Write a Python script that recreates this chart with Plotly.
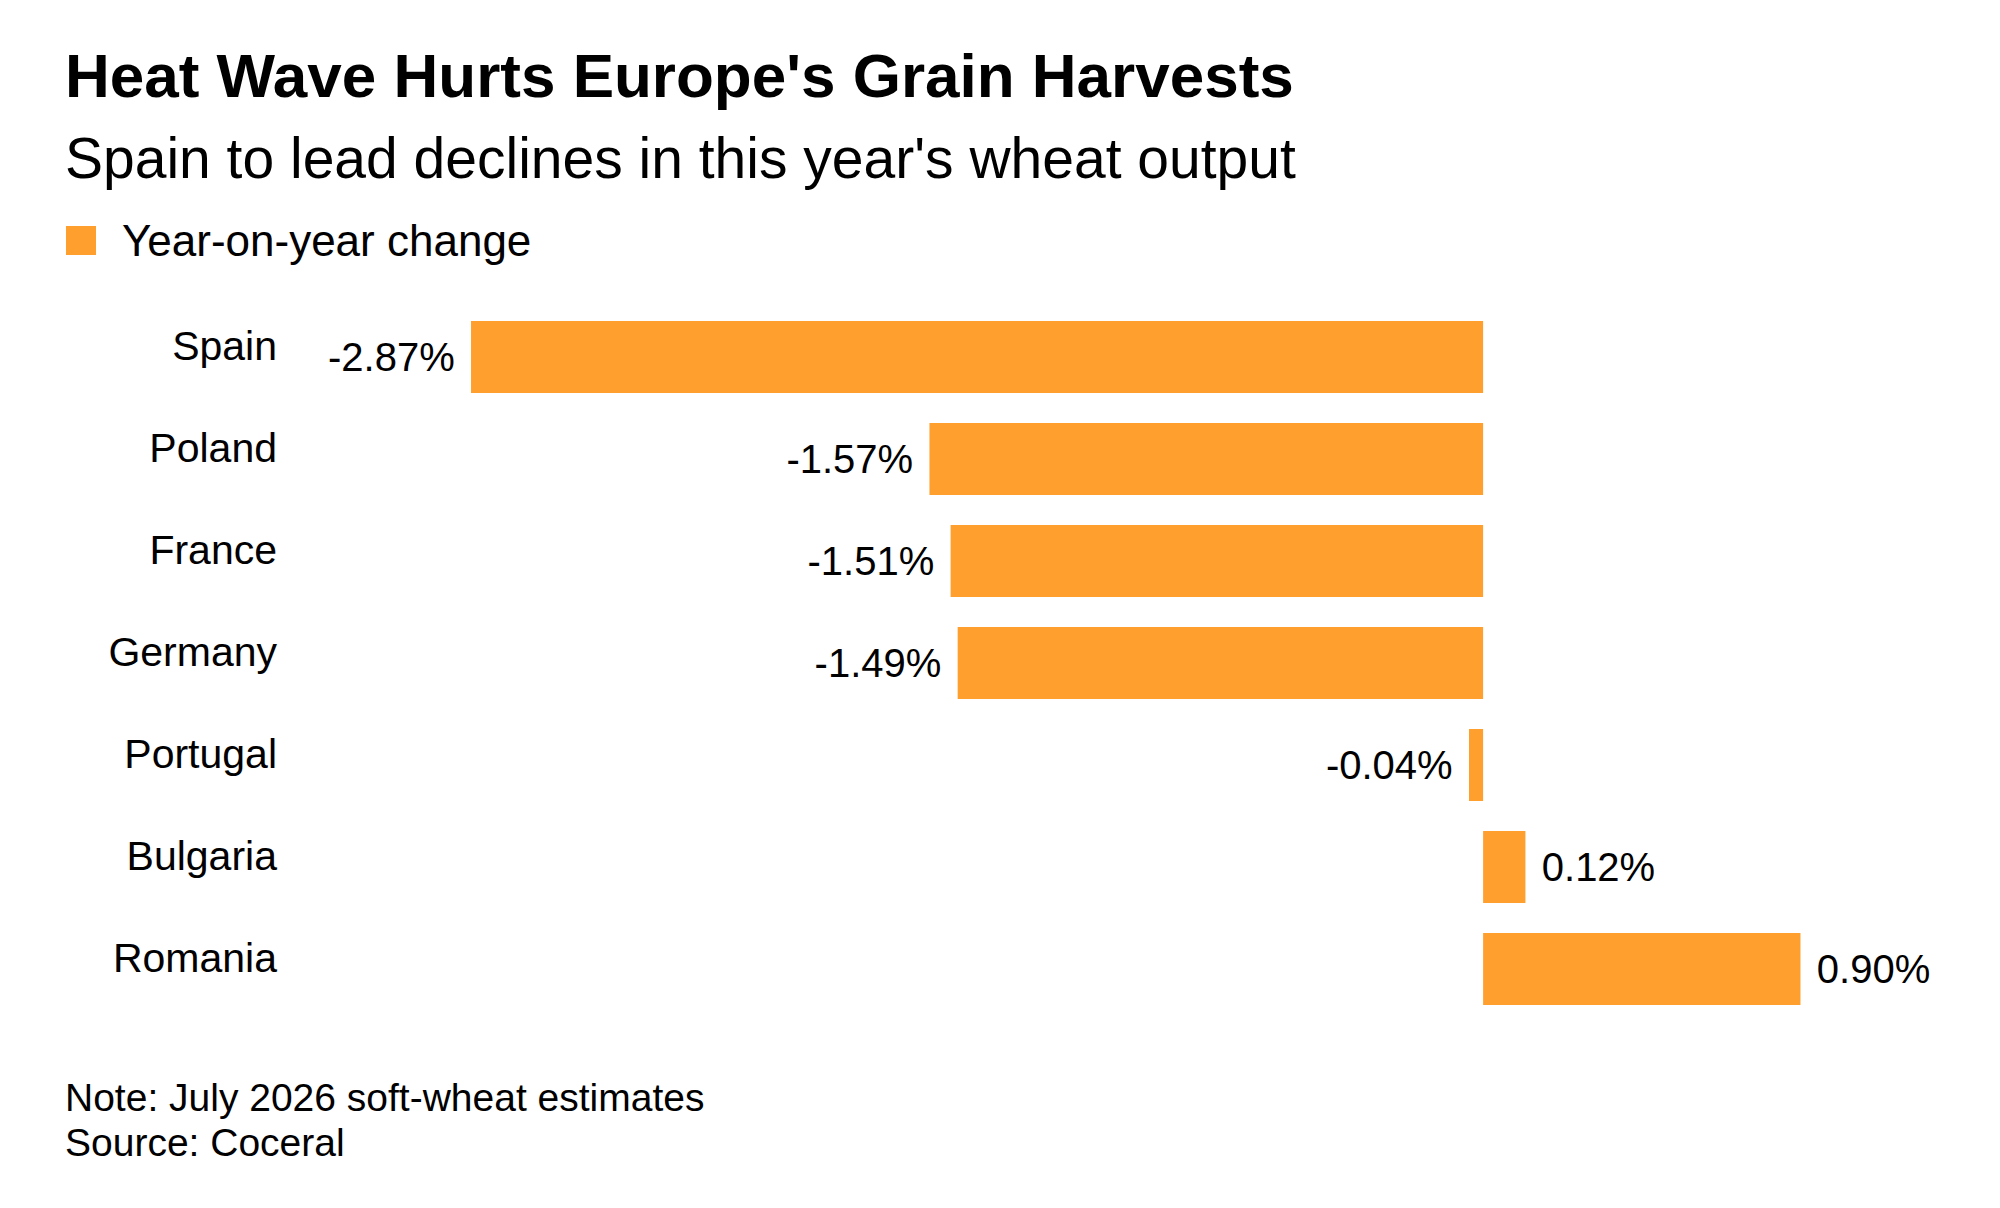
import plotly.graph_objects as go

# data
countries = ["Spain", "Poland", "France", "Germany", "Portugal", "Bulgaria", "Romania"]
yoy_change = [-2.87, -1.57, -1.51, -1.49, -0.04, 0.12, 0.90]

title = "Heat Wave Hurts Europe's Grain Harvests"
subtitle = "Spain to lead declines in this year's wheat output"
legend_label = "Year-on-year change"
note = "Note: July 2026 soft-wheat estimates"
source = "Source: Coceral"

ORANGE = "#FF9F2E"
FONT = "Liberation Sans, Arial, sans-serif"

W, H = 2000, 1208
M_L, M_R, M_T, M_B = 292, 58, 298, 196


# pixel -> paper helpers for the text blocks around the plot
def px_x(px):
    return (px - M_L) / (W - M_L - M_R)


def px_y(py):
    return (H - M_B - py) / (H - M_T - M_B)


# a small gap between bar end and value label
SP = "\u2004"
labels = [f"{v:.2f}%{SP}" if v < 0 else f"{SP}{v:.2f}%" for v in yoy_change]

fig = go.Figure()
fig.add_trace(go.Bar(
    x=yoy_change,
    y=countries,
    orientation="h",
    marker=dict(color=ORANGE, line=dict(width=0)),
    text=labels,
    texttemplate="%{text}",
    textposition="outside",
    textfont=dict(family=FONT, size=40, color="#000000"),
    cliponaxis=False,
    showlegend=False,
    hoverinfo="skip",
))

fig.update_layout(
    width=W,
    height=H,
    margin=dict(l=M_L, r=M_R, t=M_T, b=M_B),
    paper_bgcolor="white",
    plot_bgcolor="white",
    bargap=0.295,
    font=dict(family=FONT, color="#000000"),
    xaxis=dict(
        range=[-3.355, 1.324],
        visible=False,
        showgrid=False,
        zeroline=False,
    ),
    yaxis=dict(
        categoryorder="array",
        categoryarray=countries,
        autorange="reversed",
        showgrid=False,
        zeroline=False,
        showline=False,
        ticks="",
        ticklabelstandoff=22,
        ticklabelshift=11,
        tickfont=dict(family=FONT, size=41, color="#000000"),
    ),
)

# title, subtitle, footer
texts = [
    (title, 67, 62, "bold"),
    (subtitle, 150, 57, "normal"),
    (note, 1089, 39, "normal"),
    (source, 1134, 39, "normal"),
]
for txt, py, size, weight in texts:
    fig.add_annotation(
        text=txt, xref="paper", yref="paper",
        x=px_x(55), y=px_y(py), xanchor="left", yanchor="middle",
        showarrow=False,
        font=dict(family=FONT, size=size, color="#000000", weight=weight),
    )

# legend swatch and label
fig.add_shape(
    type="rect", xref="paper", yref="paper",
    x0=px_x(58), x1=px_x(88), y0=px_y(247), y1=px_y(218),
    fillcolor=ORANGE, line=dict(width=0),
)
fig.add_annotation(
    text=legend_label, xref="paper", yref="paper",
    x=px_x(112), y=px_y(232), xanchor="left", yanchor="middle",
    showarrow=False,
    font=dict(family=FONT, size=44, color="#000000"),
)

fig.write_html("out.html", config={"displayModeBar": False})
